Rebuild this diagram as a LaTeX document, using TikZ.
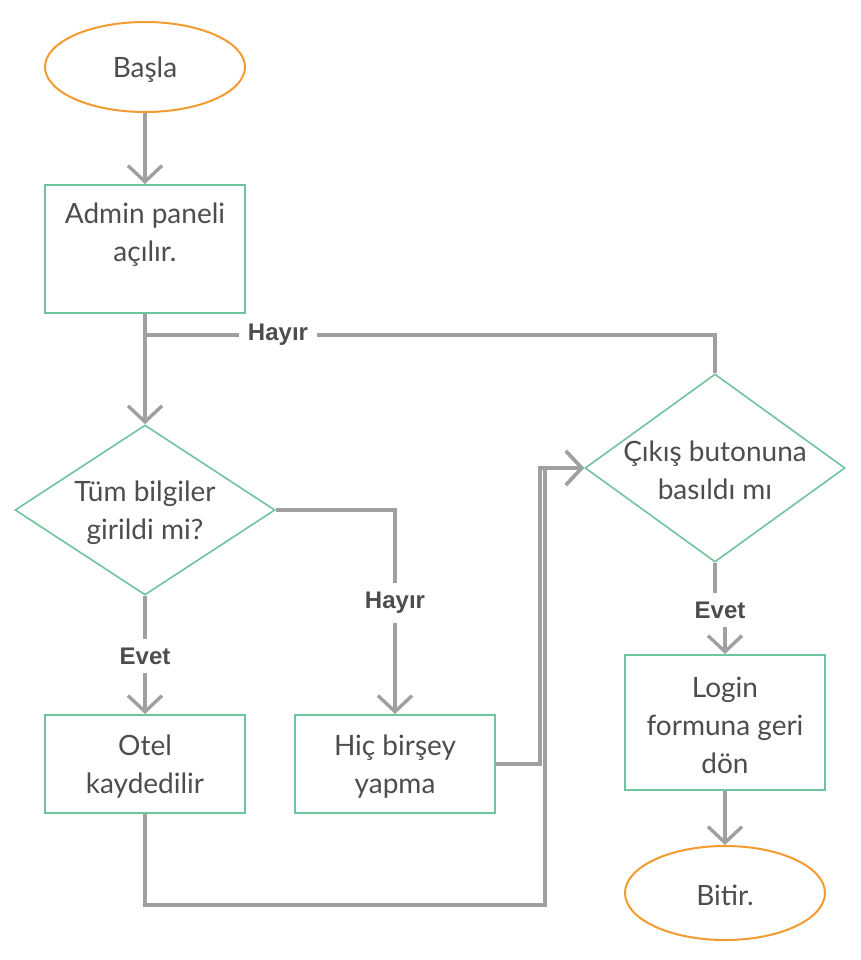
\documentclass[tikz,border=0pt]{standalone}
\usepackage{fontspec}
\setmainfont{Lato}
\newfontfamily\lblfont{Liberation Sans}
\usetikzlibrary{shapes.geometric,arrows.meta,calc}
\definecolor{linegray}{HTML}{A0A0A0}
\definecolor{boxgreen}{HTML}{6FC39D}
\definecolor{ovalorange}{HTML}{F39A30}
\definecolor{textgray}{HTML}{4D4D4D}
\begin{document}
\begin{tikzpicture}[x=1pt,y=-1pt,
  txt/.style={font=\fontsize{28}{38}\selectfont, text=textgray, align=center},
  ctext/.style={label={[txt, yshift=-2.5pt]center:#1}},
  procbox/.style={rectangle, draw=boxgreen, line width=2pt, minimum width=200pt, inner sep=0pt},
  term/.style={ellipse, draw=ovalorange, line width=2pt, minimum width=200pt, minimum height=92pt, inner sep=0pt},
  dia/.style={diamond, draw=boxgreen, line width=1.6pt, minimum width=260pt, inner sep=0pt},
  conn/.style={draw=linegray, line width=3.4pt},
  arr/.style={conn, -{Straight Barb[length=16pt,width=34pt]}},
  lbl/.style={fill=white, font=\lblfont\bfseries\fontsize{24}{26}\selectfont, text=textgray, inner sep=9pt}
]
\useasboundingbox (0,0) rectangle (860,960);

% nodes
\node[term, minimum height=90pt, ctext={Başla}] (start) at (145,67) {};
\node[procbox, minimum height=128pt,
      label={[txt, yshift=14pt]center:Admin paneli\\açılır.}] (admin) at (145,249) {};
\node[dia, minimum height=170pt, ctext={Tüm bilgiler\\girildi mi?}] (d1) at (145,510) {};
\node[procbox, minimum height=98pt, ctext={Otel\\kaydedilir}] (otel) at (145,764) {};
\node[procbox, minimum height=98pt, ctext={Hiç birşey\\yapma}] (hic) at (395,764) {};
\node[dia, minimum height=188pt, ctext={Çıkış butonuna\\basıldı mı}] (d2) at (715,468) {};
\node[procbox, minimum height=135pt, ctext={Login\\formuna geri\\dön}] (login) at (725,722.5) {};
\node[term, minimum height=94pt, ctext={Bitir.}] (bitir) at (725,893) {};

% helper coordinates
\coordinate (j1) at (145,335);
\coordinate (c1) at (545,905);
\coordinate (c2) at (540,764);

% connectors
\draw[arr] (start) -- (admin);
\draw[arr] (admin.south) -- (d1.north);
\draw[conn] (j1) -| (d2.north);
\draw[arr] (d1.east) -| (hic.north);
\draw[arr] (d1.south) -- (otel.north);
\draw[arr] (otel.south) |- (c1) |- (d2.west);
\draw[arr] (hic.east) -- (c2) |- (d2.west);
\draw[arr] (d2.south) -- ++(0,46) -| (login.north);
\draw[arr] (login) -- (bitir);

% labels
\node[lbl] (l1) at (278,335) {Hayır};
\node[lbl] (l2) at (395,603) {Hayır};
\node[lbl] (l3) at (145,656) {Evet};
\node[lbl] (l4) at (720,610) {Evet};
\end{tikzpicture}
\end{document}
